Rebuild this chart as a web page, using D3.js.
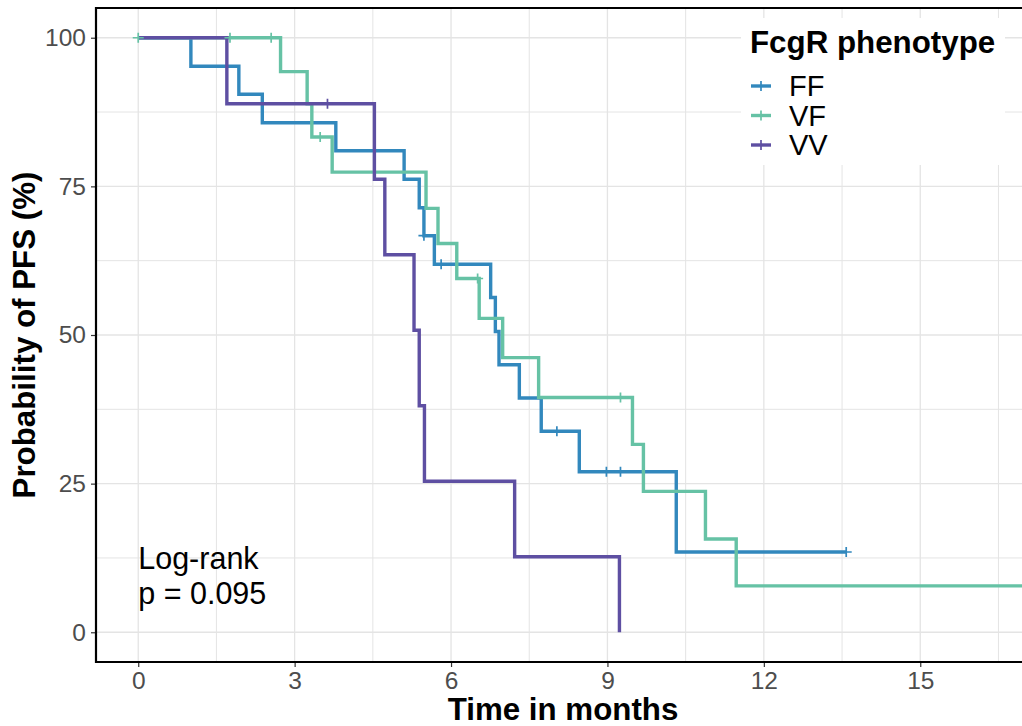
<!DOCTYPE html>
<html><head><meta charset="utf-8">
<script src="https://cdn.jsdelivr.net/npm/d3@7"></script>
<style>
body{margin:0;background:#fff;}
text{font-family:"Liberation Sans",Arial,sans-serif;}
</style></head>
<body><svg id="chart" width="1022" height="726"></svg>
<script>
// ---- data (time in months, survival %) ----
const groups = ["FF", "VF", "VV"];
const colors = ["#3288BD", "#66C2A5", "#5E4FA2"];
const ffTimes = [0, 1.01, 1.93, 2.38, 3.79, 5.10, 5.39, 5.48, 5.68, 6.76, 6.85, 6.92, 7.31, 7.73, 8.46, 10.32, 13.58];
const ffSurv  = [100, 95.2, 90.5, 85.7, 81.0, 76.2, 71.4, 66.7, 61.9, 56.3, 50.6, 45.0, 39.4, 33.8, 27.0, 13.5, 13.5];
const ffCensT = [5.48, 5.81, 8.03, 8.98, 9.25, 13.58];
const vfTimes = [0, 2.73, 3.24, 3.33, 3.72, 5.52, 5.75, 6.11, 6.54, 6.99, 7.68, 9.48, 9.69, 10.88, 11.47, 18];
const vfSurv  = [100, 94.3, 88.9, 83.3, 77.4, 71.3, 65.4, 59.5, 52.8, 46.2, 39.5, 31.6, 23.7, 15.7, 7.8, 7.8];
const vfCensT = [0, 1.76, 2.55, 3.49, 6.51, 9.25];
const vvTimes = [0, 1.70, 4.53, 4.73, 5.29, 5.39, 5.49, 7.22, 9.23];
const vvSurv  = [100, 88.9, 76.2, 63.5, 50.8, 38.1, 25.4, 12.7, 0];
const vvCensT = [3.63];
const xTicks = [0, 3, 6, 9, 12, 15];
const yTicks = [0, 25, 50, 75, 100];
const pText = ["Log-rank", "p = 0.095"];

const series = [
  {name: groups[0], color: colors[0], t: ffTimes, s: ffSurv, c: ffCensT},
  {name: groups[1], color: colors[1], t: vfTimes, s: vfSurv, c: vfCensT},
  {name: groups[2], color: colors[2], t: vvTimes, s: vvSurv, c: vvCensT}
];

const svg = d3.select("#chart");
const P = {left: 96, top: 8, right: 1024, bottom: 662};
const x = d3.scaleLinear().domain([-0.81, 16.99]).range([P.left, P.right]);
const y = d3.scaleLinear().domain([-5, 105]).range([P.bottom, P.top]);

svg.append("defs").append("clipPath").attr("id", "clip")
  .append("rect").attr("x", P.left).attr("y", P.top).attr("width", P.right - P.left + 20).attr("height", P.bottom - P.top);

const grid = svg.append("g");
const xMinor = d3.range(-0, 18.1, 1.5);
const yMinor = d3.range(0, 100.1, 12.5);
grid.selectAll("line.vx").data(xMinor).join("line")
  .attr("x1", d => x(d)).attr("x2", d => x(d)).attr("y1", P.top).attr("y2", P.bottom)
  .attr("stroke", "#e4e4e4").attr("stroke-width", d => d % 3 === 0 ? 1.3 : 1);
grid.selectAll("line.hy").data(yMinor).join("line")
  .attr("y1", d => y(d)).attr("y2", d => y(d)).attr("x1", P.left).attr("x2", 1022)
  .attr("stroke", "#e4e4e4").attr("stroke-width", d => d % 25 === 0 ? 1.3 : 1);

// curves
const plot = svg.append("g").attr("clip-path", "url(#clip)");
const line = d3.line().x(d => x(d[0])).y(d => y(d[1])).curve(d3.curveStepAfter);
series.forEach(sr => {
  const pts = sr.t.map((t, i) => [t, sr.s[i]]);
  plot.append("path").datum(pts).attr("d", line)
    .attr("fill", "none").attr("stroke", sr.color).attr("stroke-width", 3.4)
    .attr("stroke-linejoin", "miter").attr("stroke-linecap", "butt");
});
function survAt(sr, t) {
  let v = sr.s[0];
  for (let i = 0; i < sr.t.length; i++) if (sr.t[i] <= t) v = sr.s[i];
  return v;
}
series.forEach(sr => {
  sr.c.forEach(t => {
    const cx = x(t), cy = y(survAt(sr, t));
    plot.append("path").attr("d", `M${cx-5.5},${cy}H${cx+5.5}M${cx},${cy-5}V${cy+5}`)
      .attr("stroke", sr.color).attr("stroke-width", 1.7).attr("fill", "none");
  });
});

// axes
const xAxis = svg.append("g").attr("transform", `translate(0,${P.bottom})`)
  .call(d3.axisBottom(x).tickValues(xTicks).tickSize(5).tickPadding(4).tickFormat(d3.format("d")));
const yAxis = svg.append("g").attr("transform", `translate(${P.left},0)`)
  .call(d3.axisLeft(y).tickValues(yTicks).tickSize(5).tickPadding(5).tickFormat(d3.format("d")));
[xAxis, yAxis].forEach(a => {
  a.select(".domain").remove();
  a.selectAll(".tick line").attr("stroke", "#333").attr("stroke-width", 1.2);
  a.selectAll(".tick text").attr("fill", "#4d4d4d").attr("font-size", 24.5)
    .attr("font-family", "'Liberation Sans', Arial, sans-serif");
});
xAxis.selectAll(".tick text").attr("dy", "0.72em");

// panel border
svg.append("path").attr("d", `M1030,${P.top}H${P.left}V${P.bottom}H1030`)
  .attr("fill", "none").attr("stroke", "#000").attr("stroke-width", 2.2);

// axis titles
svg.append("text").attr("x", 563).attr("y", 720).attr("text-anchor", "middle")
  .attr("font-size", 31.3).attr("font-weight", "bold").text("Time in months");
svg.append("text").attr("transform", `translate(35,${(P.top + P.bottom) / 2}) rotate(-90)`)
  .attr("text-anchor", "middle").attr("font-size", 31.3).attr("font-weight", "bold")
  .text("Probability of PFS (%)");

// log-rank annotation
svg.append("text").attr("x", x(0)).attr("y", 568.5).attr("font-size", 30.5).text(pText[0]);
svg.append("text").attr("x", x(0)).attr("y", 604).attr("font-size", 30.5).text(pText[1]);

// legend
const lg = svg.append("g");
lg.append("rect").attr("x", 741).attr("y", 18).attr("width", 264).attr("height", 147).attr("fill", "#fff");
lg.append("text").attr("x", 750).attr("y", 52.5).attr("font-size", 31.3).attr("font-weight", "bold").text("FcgR phenotype");
series.forEach((sr, i) => {
  const ky = 86 + i * 29.5;
  lg.append("line").attr("x1", 751).attr("x2", 771).attr("y1", ky).attr("y2", ky)
    .attr("stroke", sr.color).attr("stroke-width", 3.4);
  lg.append("path").attr("d", `M761,${ky-5}V${ky+5}`).attr("stroke", sr.color).attr("stroke-width", 1.7);
  lg.append("text").attr("x", 789).attr("y", ky + 10.3).attr("font-size", 29).text(sr.name);
});
</script></body></html>
